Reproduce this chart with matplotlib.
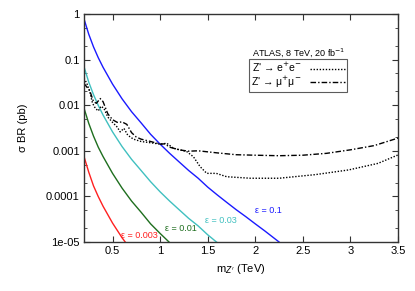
import matplotlib
matplotlib.use("Agg")
import matplotlib.pyplot as plt
import numpy as np
from matplotlib.ticker import FixedLocator, LogLocator, NullFormatter

plt.rcParams['font.family'] = ['Liberation Sans', 'DejaVu Sans']

# theory curves, sigma*BR (pb) vs m_Z' (TeV)
m_eps01 = [0.2, 0.25, 0.3, 0.35, 0.4, 0.5, 0.6, 0.7, 0.8, 0.9, 1.0, 1.1, 1.2,
           1.3, 1.4, 1.5, 1.6, 1.7, 1.8, 1.9, 2.0, 2.1, 2.25]
s_eps01 = [0.78, 0.36, 0.19, 0.11, 0.068, 0.029, 0.0138, 0.0072, 0.0041,
           0.0023, 0.0014, 0.00088, 0.00057, 0.00037, 0.00025, 0.00016,
           0.000108, 7.4e-5, 5.1e-5, 3.6e-5, 2.5e-5, 1.75e-5, 1.0e-5]
m_eps003 = [0.2, 0.25, 0.3, 0.35, 0.4, 0.5, 0.6, 0.7, 0.8, 0.9, 1.0, 1.1, 1.2,
            1.3, 1.4, 1.5, 1.6]
s_eps003 = [0.07, 0.032, 0.017, 0.0099, 0.0061, 0.0026, 0.00124, 0.00065,
            0.00037, 0.00021, 0.000126, 7.9e-5, 5.1e-5, 3.3e-5, 2.25e-5,
            1.44e-5, 9.7e-6]
m_eps001 = [0.2, 0.25, 0.3, 0.35, 0.4, 0.5, 0.6, 0.7, 0.8, 0.9, 1.0, 1.1]
s_eps001 = [0.0086, 0.004, 0.0021, 0.0012, 0.00075, 0.00032, 0.000152, 7.9e-5,
            4.5e-5, 2.5e-5, 1.54e-5, 9.7e-6]
m_eps0003 = [0.2, 0.25, 0.3, 0.35, 0.4, 0.5, 0.6, 0.7]
s_eps0003 = [0.00075, 0.00034, 0.00017, 9.9e-5, 6.1e-5, 2.6e-5, 1.24e-5, 6.5e-6]

# ATLAS limits
m_ee = [0.2, 0.23, 0.26, 0.29, 0.32, 0.35, 0.38, 0.41, 0.45, 0.5, 0.55, 0.58,
        0.62, 0.66, 0.72, 0.8, 0.9, 1.0, 1.07, 1.14, 1.28, 1.35, 1.42, 1.49,
        1.59, 1.7, 1.95, 2.25, 2.63, 2.98, 3.29, 3.5]
s_ee = [0.039, 0.03, 0.02, 0.011, 0.0085, 0.0075, 0.0095, 0.0085, 0.0055,
        0.0042, 0.0033, 0.0026, 0.0031, 0.0022, 0.0018, 0.0016, 0.0015, 0.0014,
        0.00146, 0.00114, 0.00096, 0.00074, 0.00045, 0.00032, 0.00032, 0.00027,
        0.00025, 0.00025, 0.0003, 0.00038, 0.00053, 0.00081]
m_mumu = [0.2, 0.23, 0.26, 0.3, 0.33, 0.37, 0.4, 0.45, 0.5, 0.55, 0.6, 0.65,
          0.7, 0.75, 0.8, 0.9, 1.0, 1.05, 1.1, 1.2, 1.3, 1.4, 1.6, 1.8, 2.0,
          2.25, 2.5, 2.75, 3.0, 3.25, 3.5]
s_mumu = [0.03, 0.025, 0.021, 0.012, 0.011, 0.014, 0.012, 0.0065, 0.0048,
          0.0042, 0.0043, 0.0038, 0.0025, 0.002, 0.0018, 0.0016, 0.0014,
          0.00142, 0.0012, 0.00105, 0.00098, 0.001, 0.0009, 0.00082, 0.0008,
          0.00078, 0.0008, 0.00088, 0.00105, 0.0013, 0.0019]

xticks = [0.5, 1, 1.5, 2, 2.5, 3, 3.5]
xticklabels = ['0.5', '1', '1.5', '2', '2.5', '3', '3.5']
yticks = [1, 0.1, 0.01, 0.001, 0.0001, 1e-5]
yticklabels = ['1', '0.1', '0.01', '0.001', '0.0001', '1e-05']

fig = plt.figure(figsize=(4.15, 2.91), dpi=100)
ax = fig.add_axes([0.2024, 0.1684, 0.7566, 0.7835])

ax.plot(m_eps01, s_eps01, color='#1a1aff', lw=1)
ax.plot(m_eps003, s_eps003, color='#40c0c0', lw=1)
ax.plot(m_eps001, s_eps001, color='#1e6e1e', lw=1)
ax.plot(m_eps0003, s_eps0003, color='#ff2020', lw=1)
l1, = ax.plot(m_ee, s_ee, color='black', lw=1, ls=(0, (1, 1.2)))
l2, = ax.plot(m_mumu, s_mumu, color='black', lw=1, ls=(0, (4, 1.5, 1, 1.5)))

ax.set_yscale('log')
ax.set_xlim(0.2, 3.5)
ax.set_ylim(1e-5, 1)
ax.xaxis.set_major_locator(FixedLocator(xticks))
ax.set_xticklabels(xticklabels)
ax.yaxis.set_major_locator(FixedLocator(yticks))
ax.set_yticklabels(yticklabels)
ax.yaxis.set_minor_locator(LogLocator(base=10, subs=[2, 5]))
ax.yaxis.set_minor_formatter(NullFormatter())
ax.tick_params(which='both', direction='in', top=True, right=True,
               labelsize=8, pad=3, color='#333333')
ax.tick_params(which='major', length=4)
ax.tick_params(which='minor', length=2)
for s in ax.spines.values():
    s.set_color('#333333')
    s.set_linewidth(1)

ax.set_xlabel("m$_{Z'}$ (TeV)", fontsize=8, labelpad=4)
ax.set_ylabel('σ BR (pb)', fontsize=8, labelpad=13)

ax.text(2.0, 5e-5, 'ε = 0.1', color='#1a1aff', fontsize=6.5, va='center')
ax.text(1.47, 2.9e-5, 'ε = 0.03', color='#40c0c0', fontsize=6.5, va='center')
ax.text(1.05, 2.0e-5, 'ε = 0.01', color='#1e6e1e', fontsize=6.5, va='center')
ax.text(0.585, 1.4e-5, 'ε = 0.003', color='#ff2020', fontsize=6.5, va='center')

ax.text(0.685, 0.829, 'ATLAS, 8 TeV, 20 fb$^{-1}$', transform=ax.transAxes,
        fontsize=6.5, ha='center', va='center')
leg = ax.legend([l1, l2], ["Z' → e$^{+}$e$^{-}$", "Z' → μ$^{+}$μ$^{-}$"],
                loc='upper left', bbox_to_anchor=(0.526, 0.802),
                markerfirst=False, fontsize=7.5, frameon=True, fancybox=False,
                handlelength=3.4, handletextpad=0.8, borderpad=0.2,
                labelspacing=0.05, borderaxespad=0)
leg.get_frame().set_edgecolor('#333333')
leg.get_frame().set_linewidth(0.8)

fig.savefig('out.png', dpi=100)
